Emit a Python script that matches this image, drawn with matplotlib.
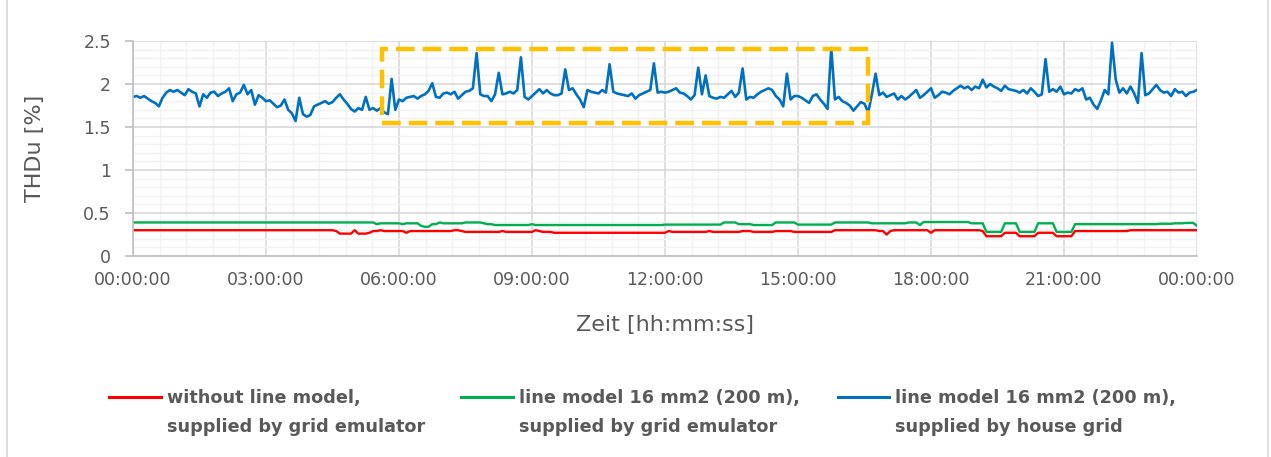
import numpy as np
import matplotlib.pyplot as plt
from matplotlib.patches import Rectangle
from matplotlib.lines import Line2D

# THDu over one day, one sample every 5 minutes (00:00 ... 24:00)
# supplied by house grid, line model 16 mm2 (200 m)
thd_house = [
    1.85, 1.86, 1.84, 1.86, 1.83, 1.80, 1.78, 1.74, 1.84, 1.90, 1.93, 1.91,  # 0h
    1.93, 1.90, 1.87, 1.94, 1.91, 1.89, 1.74, 1.88, 1.84, 1.90, 1.91, 1.86,  # 1h
    1.89, 1.91, 1.95, 1.80, 1.88, 1.90, 1.99, 1.88, 1.93, 1.76, 1.87, 1.84,  # 2h
    1.80, 1.81, 1.77, 1.73, 1.75, 1.82, 1.70, 1.66, 1.57, 1.84, 1.65, 1.62,  # 3h
    1.64, 1.74, 1.76, 1.78, 1.80, 1.77, 1.79, 1.84, 1.88, 1.82, 1.77, 1.71,  # 4h
    1.68, 1.72, 1.70, 1.85, 1.70, 1.72, 1.69, 1.72, 1.67, 1.65, 2.06, 1.70,  # 5h
    1.82, 1.80, 1.84, 1.85, 1.86, 1.83, 1.86, 1.88, 1.92, 2.01, 1.85, 1.84,  # 6h
    1.89, 1.90, 1.88, 1.91, 1.83, 1.87, 1.91, 1.92, 1.95, 2.36, 1.88, 1.86,  # 7h
    1.86, 1.80, 1.88, 2.13, 1.88, 1.89, 1.91, 1.89, 1.93, 2.31, 1.85, 1.82,  # 8h
    1.86, 1.90, 1.94, 1.89, 1.93, 1.89, 1.87, 1.87, 1.89, 2.17, 1.93, 1.95,  # 9h
    1.88, 1.82, 1.73, 1.93, 1.91, 1.90, 1.89, 1.93, 1.90, 2.23, 1.91, 1.89,  # 10h
    1.88, 1.87, 1.86, 1.89, 1.83, 1.87, 1.89, 1.91, 1.93, 2.24, 1.90, 1.91,  # 11h
    1.90, 1.91, 1.93, 1.95, 1.90, 1.89, 1.86, 1.82, 1.87, 2.19, 1.88, 2.10,  # 12h
    1.86, 1.84, 1.83, 1.85, 1.84, 1.88, 1.92, 1.85, 1.90, 2.18, 1.82, 1.85,  # 13h
    1.84, 1.88, 1.91, 1.93, 1.95, 1.93, 1.86, 1.82, 1.74, 2.12, 1.82, 1.86,  # 14h
    1.86, 1.84, 1.81, 1.78, 1.86, 1.88, 1.82, 1.77, 1.71, 2.42, 1.82, 1.85,  # 15h
    1.80, 1.78, 1.75, 1.69, 1.74, 1.79, 1.77, 1.67, 1.88, 2.12, 1.87, 1.90,  # 16h
    1.85, 1.87, 1.89, 1.82, 1.86, 1.82, 1.85, 1.89, 1.93, 1.84, 1.87, 1.91,  # 17h
    1.95, 1.84, 1.87, 1.91, 1.90, 1.88, 1.92, 1.95, 1.98, 1.95, 1.97, 1.93,  # 18h
    1.97, 1.95, 2.05, 1.96, 2.00, 1.97, 1.95, 1.92, 1.98, 1.94, 1.93, 1.92,  # 19h
    1.90, 1.93, 1.89, 1.95, 1.91, 1.86, 1.88, 2.29, 1.91, 1.94, 1.91, 1.97,  # 20h
    1.88, 1.90, 1.89, 1.94, 1.92, 1.95, 1.82, 1.84, 1.76, 1.71, 1.81, 1.93,  # 21h
    1.88, 2.48, 2.05, 1.90, 1.95, 1.89, 1.97, 1.89, 1.78, 2.36, 1.87, 1.89,  # 22h
    1.94, 1.99, 1.93, 1.90, 1.91, 1.86, 1.94, 1.90, 1.91, 1.86, 1.90, 1.91,  # 23h
    1.93,
]

# without line model, supplied by grid emulator
thd_emulator = [
    0.30, 0.30, 0.30, 0.30, 0.30, 0.30, 0.30, 0.30, 0.30, 0.30, 0.30, 0.30,  # 0h
    0.30, 0.30, 0.30, 0.30, 0.30, 0.30, 0.30, 0.30, 0.30, 0.30, 0.30, 0.30,  # 1h
    0.30, 0.30, 0.30, 0.30, 0.30, 0.30, 0.30, 0.30, 0.30, 0.30, 0.30, 0.30,  # 2h
    0.30, 0.30, 0.30, 0.30, 0.30, 0.30, 0.30, 0.30, 0.30, 0.30, 0.30, 0.30,  # 3h
    0.30, 0.30, 0.30, 0.30, 0.30, 0.30, 0.30, 0.29, 0.26, 0.26, 0.26, 0.26,  # 4h
    0.30, 0.26, 0.26, 0.26, 0.27, 0.29, 0.29, 0.30, 0.29, 0.29, 0.29, 0.29,  # 5h
    0.29, 0.29, 0.27, 0.29, 0.29, 0.29, 0.29, 0.29, 0.29, 0.29, 0.29, 0.29,  # 6h
    0.29, 0.29, 0.29, 0.30, 0.30, 0.29, 0.28, 0.28, 0.28, 0.28, 0.28, 0.28,  # 7h
    0.28, 0.28, 0.28, 0.28, 0.29, 0.28, 0.28, 0.28, 0.28, 0.28, 0.28, 0.28,  # 8h
    0.28, 0.30, 0.29, 0.28, 0.28, 0.28, 0.27, 0.27, 0.27, 0.27, 0.27, 0.27,  # 9h
    0.27, 0.27, 0.27, 0.27, 0.27, 0.27, 0.27, 0.27, 0.27, 0.27, 0.27, 0.27,  # 10h
    0.27, 0.27, 0.27, 0.27, 0.27, 0.27, 0.27, 0.27, 0.27, 0.27, 0.27, 0.27,  # 11h
    0.27, 0.29, 0.28, 0.28, 0.28, 0.28, 0.28, 0.28, 0.28, 0.28, 0.28, 0.28,  # 12h
    0.29, 0.28, 0.28, 0.28, 0.28, 0.28, 0.28, 0.28, 0.28, 0.29, 0.29, 0.29,  # 13h
    0.28, 0.28, 0.28, 0.28, 0.28, 0.28, 0.29, 0.29, 0.29, 0.29, 0.29, 0.28,  # 14h
    0.28, 0.28, 0.28, 0.28, 0.28, 0.28, 0.28, 0.28, 0.28, 0.28, 0.30, 0.30,  # 15h
    0.30, 0.30, 0.30, 0.30, 0.30, 0.30, 0.30, 0.30, 0.30, 0.30, 0.29, 0.29,  # 16h
    0.25, 0.29, 0.30, 0.30, 0.30, 0.30, 0.30, 0.30, 0.30, 0.30, 0.30, 0.30,  # 17h
    0.27, 0.30, 0.30, 0.30, 0.30, 0.30, 0.30, 0.30, 0.30, 0.30, 0.30, 0.30,  # 18h
    0.30, 0.30, 0.29, 0.23, 0.23, 0.23, 0.23, 0.23, 0.27, 0.27, 0.27, 0.27,  # 19h
    0.23, 0.23, 0.23, 0.23, 0.23, 0.27, 0.27, 0.27, 0.27, 0.27, 0.23, 0.23,  # 20h
    0.23, 0.23, 0.23, 0.29, 0.29, 0.29, 0.29, 0.29, 0.29, 0.29, 0.29, 0.29,  # 21h
    0.29, 0.29, 0.29, 0.29, 0.29, 0.29, 0.30, 0.30, 0.30, 0.30, 0.30, 0.30,  # 22h
    0.30, 0.30, 0.30, 0.30, 0.30, 0.30, 0.30, 0.30, 0.30, 0.30, 0.30, 0.30,  # 23h
    0.30,
]

# line model 16 mm2 (200 m), supplied by grid emulator
thd_line_emulator = [
    0.39, 0.39, 0.39, 0.39, 0.39, 0.39, 0.39, 0.39, 0.39, 0.39, 0.39, 0.39,  # 0h
    0.39, 0.39, 0.39, 0.39, 0.39, 0.39, 0.39, 0.39, 0.39, 0.39, 0.39, 0.39,  # 1h
    0.39, 0.39, 0.39, 0.39, 0.39, 0.39, 0.39, 0.39, 0.39, 0.39, 0.39, 0.39,  # 2h
    0.39, 0.39, 0.39, 0.39, 0.39, 0.39, 0.39, 0.39, 0.39, 0.39, 0.39, 0.39,  # 3h
    0.39, 0.39, 0.39, 0.39, 0.39, 0.39, 0.39, 0.39, 0.39, 0.39, 0.39, 0.39,  # 4h
    0.39, 0.39, 0.39, 0.39, 0.39, 0.39, 0.37, 0.38, 0.38, 0.38, 0.38, 0.38,  # 5h
    0.38, 0.37, 0.38, 0.38, 0.38, 0.38, 0.35, 0.34, 0.34, 0.37, 0.37, 0.39,  # 6h
    0.38, 0.38, 0.38, 0.38, 0.38, 0.38, 0.39, 0.39, 0.39, 0.39, 0.39, 0.38,  # 7h
    0.37, 0.37, 0.36, 0.36, 0.36, 0.36, 0.36, 0.36, 0.36, 0.36, 0.36, 0.36,  # 8h
    0.37, 0.36, 0.36, 0.36, 0.36, 0.36, 0.36, 0.36, 0.36, 0.36, 0.36, 0.36,  # 9h
    0.36, 0.36, 0.36, 0.36, 0.36, 0.36, 0.36, 0.36, 0.36, 0.36, 0.36, 0.36,  # 10h
    0.36, 0.36, 0.36, 0.36, 0.36, 0.36, 0.36, 0.36, 0.36, 0.36, 0.36, 0.36,  # 11h
    0.365, 0.365, 0.365, 0.365, 0.365, 0.365, 0.365, 0.365, 0.365, 0.365, 0.365, 0.365,  # 12h
    0.365, 0.365, 0.365, 0.365, 0.39, 0.39, 0.39, 0.39, 0.37, 0.37, 0.37, 0.37,  # 13h
    0.36, 0.36, 0.36, 0.36, 0.36, 0.36, 0.39, 0.39, 0.39, 0.39, 0.39, 0.39,  # 14h
    0.365, 0.365, 0.365, 0.365, 0.365, 0.365, 0.365, 0.365, 0.365, 0.365, 0.39, 0.39,  # 15h
    0.39, 0.39, 0.39, 0.39, 0.39, 0.39, 0.39, 0.39, 0.38, 0.38, 0.38, 0.38,  # 16h
    0.38, 0.38, 0.38, 0.38, 0.38, 0.38, 0.39, 0.39, 0.39, 0.36, 0.395, 0.395,  # 17h
    0.395, 0.395, 0.395, 0.395, 0.395, 0.395, 0.395, 0.395, 0.395, 0.395, 0.395, 0.38,  # 18h
    0.38, 0.38, 0.38, 0.28, 0.28, 0.28, 0.28, 0.28, 0.38, 0.38, 0.38, 0.38,  # 19h
    0.28, 0.28, 0.28, 0.28, 0.28, 0.38, 0.38, 0.38, 0.38, 0.38, 0.28, 0.28,  # 20h
    0.28, 0.28, 0.28, 0.37, 0.37, 0.37, 0.37, 0.37, 0.37, 0.37, 0.37, 0.37,  # 21h
    0.37, 0.37, 0.37, 0.37, 0.37, 0.37, 0.37, 0.37, 0.37, 0.37, 0.37, 0.37,  # 22h
    0.37, 0.37, 0.375, 0.375, 0.375, 0.375, 0.38, 0.38, 0.38, 0.385, 0.385, 0.385,  # 23h
    0.35,
]

series_colors = ['#ff0000', '#00b050', '#0070c0']
series_labels = [('without line model,', 'supplied by grid emulator'),
                 ('line model 16 mm2 (200 m),', 'supplied by grid emulator'),
                 ('line model 16 mm2 (200 m),', 'supplied by house grid')]
xtick_hours = [0, 3, 6, 9, 12, 15, 18, 21, 24]
xtick_labels = ['00:00:00', '03:00:00', '06:00:00', '09:00:00', '12:00:00',
                '15:00:00', '18:00:00', '21:00:00', '00:00:00']
ytick_values = [0, 0.5, 1, 1.5, 2, 2.5]
ytick_labels = ['0', '0.5', '1', '1.5', '2', '2.5']

# highlighted window (hours, THDu)
box_start, box_end = 5.62, 16.58
box_low, box_high = 1.55, 2.41

# time axis in hours, 5 minute steps
t = np.arange(len(thd_house)) * 5 / 60

txt_gray = '#595959'
W, H = 1271, 457
plt.rcParams['font.family'] = 'DejaVu Sans'

fig = plt.figure(figsize=(W / 100, H / 100), dpi=100)
ax = fig.add_axes([133 / W, 1 - 256 / H, 1064 / W, 215 / H])

# grid: minor every 0.1 / 36 min, major every 0.5 / 3 h
ax.set_xticks(np.arange(0, 24.01, 0.6), minor=True)
ax.set_yticks(np.arange(0, 2.51, 0.1), minor=True)
ax.grid(which='minor', color='#f2f2f2', linewidth=1.0)
ax.grid(which='major', color='#d9d9d9', linewidth=1.2)
ax.set_axisbelow(True)

ax.plot(t, thd_emulator, color=series_colors[0], linewidth=1.7, solid_joinstyle='round')
ax.plot(t, thd_line_emulator, color=series_colors[1], linewidth=1.7, solid_joinstyle='round')
ax.plot(t, thd_house, color=series_colors[2], linewidth=1.9, solid_joinstyle='round')

ax.add_patch(Rectangle((box_start, box_low), box_end - box_start, box_high - box_low,
                       fill=False, edgecolor='#ffc000', linewidth=3.2,
                       linestyle=(0, (4.2, 1.8)), zorder=5))

ax.set_xlim(0, 24)
ax.set_ylim(0, 2.5)
ax.set_xticks(xtick_hours)
ax.set_xticklabels(xtick_labels)
ax.set_yticks(ytick_values)
ax.set_yticklabels(ytick_labels)
ax.tick_params(axis='x', which='both', length=0, pad=11, labelsize=12.5, labelcolor=txt_gray)
ax.tick_params(axis='y', which='major', length=6, width=1.2, color='#bfbfbf',
               pad=10, labelsize=12.5, labelcolor=txt_gray)
ax.tick_params(axis='y', which='minor', length=0)

for side in ['top', 'right']:
    ax.spines[side].set_visible(False)
for side in ['left', 'bottom']:
    ax.spines[side].set_color('#bfbfbf')
    ax.spines[side].set_linewidth(1.2)

fig.text(665 / W, 1 - 325 / H, 'Zeit [hh:mm:ss]', ha='center', va='center',
         fontsize=16, color=txt_gray)
fig.text(35 / W, 1 - 148 / H, 'THDu [%]', ha='center', va='center',
         rotation=90, fontsize=16, color=txt_gray)

# legend below the plot: handle next to the first text line
handle_x = [(109, 161), (461, 513), (838, 889)]
for (x0, x1), color, (line1, line2) in zip(handle_x, series_colors, series_labels):
    fig.add_artist(Line2D([x0 / W, x1 / W], [1 - 397 / H, 1 - 397 / H], color=color, linewidth=2.2))
    fig.text((x1 + 6) / W, 1 - 398 / H, line1, ha='left', va='center', fontsize=12.7,
             fontweight='bold', color=txt_gray)
    fig.text((x1 + 6) / W, 1 - 427 / H, line2, ha='left', va='center', fontsize=12.7,
             fontweight='bold', color=txt_gray)

# outer chart frame
fig.add_artist(Line2D([7 / W, 7 / W], [0, 1], color='#d9d9d9', linewidth=1.2))
fig.add_artist(Line2D([1268 / W, 1268 / W], [0, 1], color='#d9d9d9', linewidth=1.2))

fig.savefig('out.png', dpi=100)
